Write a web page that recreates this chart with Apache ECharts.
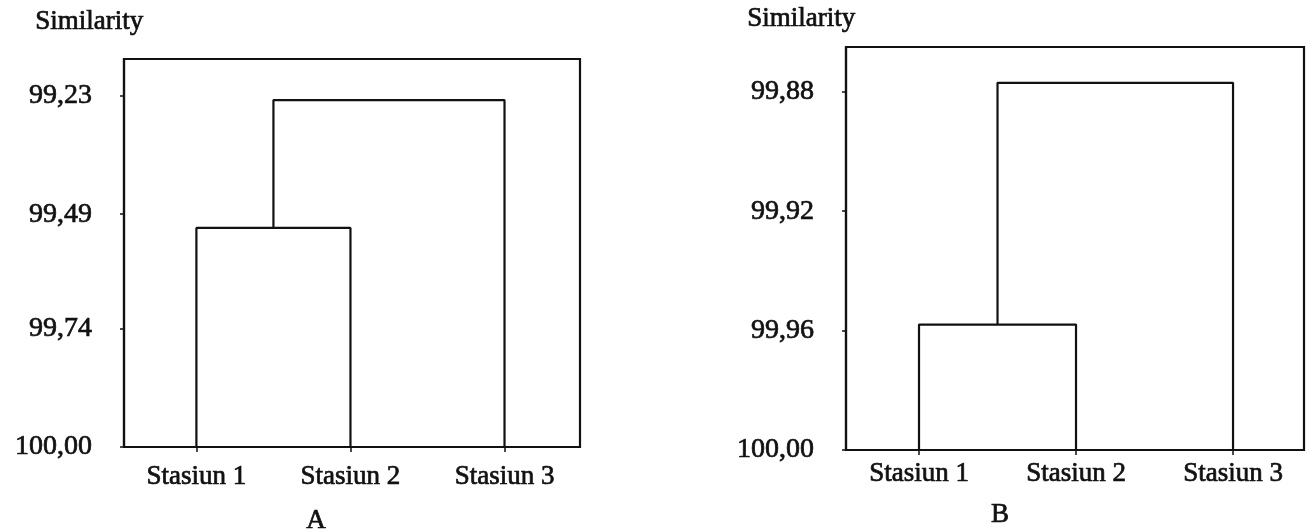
<!DOCTYPE html>
<html>
<head>
<meta charset="utf-8">
<script src="https://cdn.jsdelivr.net/npm/echarts@6/dist/echarts.min.js"></script>
<style>
html,body{margin:0;padding:0;background:#fff;}
#chart{width:1310px;height:532px;}
</style>
</head>
<body>
<div id="chart"></div>
<script>
// ---- data ----
var stations = ['Stasiun 1', 'Stasiun 2', 'Stasiun 3'];
var stationPos = [1, 2, 3];
var ticksA = [99.23, 99.49, 99.74, 100.00];
var ticksB = [99.88, 99.92, 99.96, 100.00];
// merge heights: [ (Stasiun 1 + Stasiun 2), (cluster 1-2 + Stasiun 3) ]
var mergeA = [99.52, 99.24];
var mergeB = [99.958, 99.877];
var leafLevel = 100.00;
var panelLabels = ['A', 'B'];
var axisTitle = 'Similarity';

var FONT = 'Liberation Serif';
var INK = '#111';
var TEXT_INK = '#111';

function dendroSeries(merge, gridIdx) {
  var s1 = stationPos[0], s2 = stationPos[1], s3 = stationPos[2];
  var mid12 = (s1 + s2) / 2;
  var u1 = [[s1, leafLevel], [s1, merge[0]], [s2, merge[0]], [s2, leafLevel]];
  var u2 = [[mid12, merge[0]], [mid12, merge[1]], [s3, merge[1]], [s3, leafLevel]];
  return [u1, u2].map(function (d) {
    return {
      type: 'line', xAxisIndex: gridIdx, yAxisIndex: gridIdx,
      data: d, symbol: 'none', silent: true, animation: false,
      lineStyle: { color: INK, width: 2.2 }
    };
  });
}

function fmt(v) { return v.toFixed(2).replace('.', ','); }

var textThick = { textBorderColor: TEXT_INK, textBorderWidth: 0.7 };

function xAxisCfg(gridIdx, min, max, margin) {
  return {
    type: 'value', gridIndex: gridIdx, min: min, max: max,
    splitLine: { show: false },
    axisLine: { show: true, lineStyle: { color: INK, width: 2.2 } },
    axisTick: { show: true, customValues: stationPos, length: 5, lineStyle: { color: INK, width: 1.5 } },
    axisLabel: Object.assign({
      customValues: stationPos, margin: margin,
      formatter: function (v) { return stations[Math.round(v) - 1]; },
      color: TEXT_INK, fontFamily: FONT, fontSize: 27
    }, textThick)
  };
}

function yAxisCfg(gridIdx, min, ticks) {
  return {
    type: 'value', gridIndex: gridIdx, min: min, max: leafLevel, inverse: true,
    splitLine: { show: false },
    axisLine: { show: true, lineStyle: { color: INK, width: 2.2 } },
    axisTick: { show: true, customValues: ticks, length: 4, lineStyle: { color: INK, width: 1.5 } },
    axisLabel: Object.assign({
      customValues: ticks, margin: 32, formatter: fmt,
      color: TEXT_INK, fontFamily: FONT, fontSize: 28
    }, textThick)
  };
}

function txt(s, extra) {
  return Object.assign({ text: s, font: '27px "' + FONT + '"', fill: TEXT_INK, stroke: TEXT_INK, lineWidth: 0.7 }, extra || {});
}

var chart = echarts.init(document.getElementById('chart'), null, { renderer: 'canvas' });
var option = {
  backgroundColor: '#fff',
  animation: false,
  grid: [
    { left: 124, right: 730, top: 59, bottom: 85, show: true, borderColor: INK, borderWidth: 2.2 },
    { left: 846, right: 6, top: 47, bottom: 82, show: true, borderColor: INK, borderWidth: 2.2 }
  ],
  xAxis: [xAxisCfg(0, 0.53, 3.49, 16), xAxisCfg(1, 0.535, 3.452, 10)],
  yAxis: [yAxisCfg(0, 99.15, ticksA), yAxisCfg(1, 99.865, ticksB)],
  series: dendroSeries(mergeA, 0).concat(dendroSeries(mergeB, 1)),
  graphic: [
    { type: 'text', left: 35, top: 8, style: txt(axisTitle) },
    { type: 'text', left: 747, top: 5, style: txt(axisTitle) },
    { type: 'text', x: 316, y: 521, style: txt(panelLabels[0], { textAlign: 'center', textVerticalAlign: 'middle' }) },
    { type: 'text', x: 1000, y: 515, style: txt(panelLabels[1], { textAlign: 'center', textVerticalAlign: 'middle' }) }
  ]
};
chart.setOption(option);
</script>
</body>
</html>
